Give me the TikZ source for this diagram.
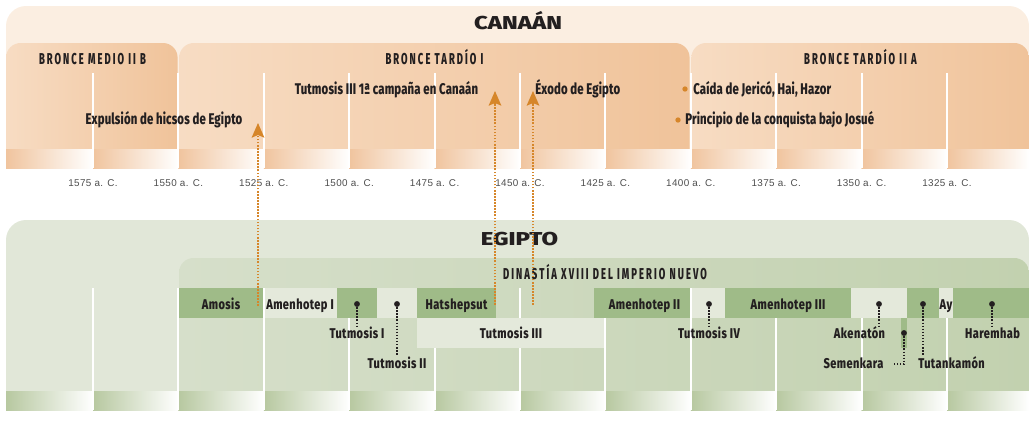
\documentclass[tikz,border=0pt]{standalone}
\usepackage{fontspec}
\setmainfont{Liberation Sans}
\newfontfamily\condA[FakeStretch=0.735,LetterSpace=1]{Fira Sans ExtraBold}
\newfontfamily\condB[FakeStretch=0.78,LetterSpace=3]{Fira Sans ExtraBold}
\newfontfamily\condH[FakeStretch=0.6,LetterSpace=13]{Fira Sans ExtraBold}
\newfontfamily\axisf[LetterSpace=4]{Liberation Sans}
\newfontfamily\titlef[FakeStretch=1.28]{Fira Sans ExtraBold}
\usetikzlibrary{arrows.meta}
\definecolor{peachbg}{HTML}{FBEEE1}
\definecolor{peachL}{HTML}{F7DCC3}
\definecolor{peachD}{HTML}{F0C39A}
\definecolor{peachS}{HTML}{F0C49E}
\definecolor{greenbg}{HTML}{E1E7D8}
\definecolor{greenL}{HTML}{D6DFCA}
\definecolor{greenD}{HTML}{C2D1AF}
\definecolor{greenbar}{HTML}{9FBB88}
\definecolor{greenlight}{HTML}{E4E9DB}
\definecolor{greenS}{HTML}{B7C8A0}
\definecolor{ink}{HTML}{231F20}
\definecolor{axisgray}{HTML}{4D4D4D}
\definecolor{orangearr}{HTML}{D6862A}
\begin{document}
\begin{tikzpicture}[x=0.75pt,y=-0.75pt,
  hdr/.style={font=\condH\fontsize{11.8}{13}\selectfont, text=ink, inner sep=0, anchor=base},
  ev/.style={font=\condA\fontsize{11.6}{13}\selectfont, text=ink, inner sep=0, anchor=base},
  nm/.style={font=\condB\fontsize{10.6}{12}\selectfont, text=ink, inner sep=0, anchor=base},
  yr/.style={font=\axisf\fontsize{7.4}{9}\selectfont, text=axisgray, inner sep=0, anchor=base},
  ttl/.style={font=\titlef\fontsize{14}{16}\selectfont, text=ink, inner sep=0, anchor=base},
  wline/.style={white, line width=1.5pt},
  odot/.style={orangearr, line width=1.2pt, dash pattern=on 1.2pt off 1.1pt},
  bkdot/.style={ink, line width=1.1pt, dash pattern=on 1.1pt off 1.2pt},
  bdot/.style={circle, fill=ink, inner sep=0, minimum size=4.4pt},
  obul/.style={circle, fill=orangearr, inner sep=0, minimum size=4pt},
  arr/.style={odot, -{Stealth[length=11pt,width=9.5pt,inset=2pt]}},
  bardark/.style={fill=greenbar},
  barlight/.style={fill=greenlight}
]
\useasboundingbox (0,0) rectangle (1029,432);

% ---------- CANAAN panel ----------
\begin{scope}
  \clip (0,0) rectangle (1029,168);
  \fill[peachbg, rounded corners=15pt] (6,6) rectangle (1029,220);
\end{scope}
\begin{scope}
  \clip (0,0) rectangle (1029,168);
  \shade[left color=peachL, right color=peachD, rounded corners=11pt] (6,43) rectangle (177.6,220);
  \shade[left color=peachL, right color=peachD, rounded corners=11pt] (179.2,43) rectangle (689.6,220);
  \shade[left color=peachL, right color=peachD, rounded corners=11pt] (691.4,43) rectangle (1029,220);
\end{scope}
\foreach \a/\b in {6/93,93/178.4,178.4/263.8,263.8/349.2,349.2/434.6,434.6/520,520/605.4,605.4/690.8,690.8/776.2,776.2/861.6,861.6/947,947/1029}
  \shade[left color=peachS, right color=white] (\a,149) rectangle (\b,168);
\foreach \x in {93,178.4,263.8,349.2,434.6,520,605.4,690.8,776.2,861.6,947}
  \draw[wline] (\x,73) -- (\x,168);

\node[ttl] (canaan) at (518,30) {CANAÁN};
\node[hdr] (bm2b) at (92.5,64) {BRONCE MEDIO II B};
\node[hdr] (bt1) at (434.5,64) {BRONCE TARDÍO I};
\node[hdr] (bt2a) at (860.5,64) {BRONCE TARDÍO II A};

\node[ev] (tut1c) at (386.5,94) {Tutmosis III 1ª campaña en Canaán};
\node[ev, anchor=base west] (exodo) at (535,94) {Éxodo de Egipto};
\node[ev] (expul) at (164,124) {Expulsión de hicsos de Egipto};
\node[obul] (b1) at (685,89) {};
\node[ev, anchor=base west] (caida) at (693,94) {Caída de Jericó, Hai, Hazor};
\node[obul] (b2) at (678,120) {};
\node[ev, anchor=base west] (princ) at (685,124) {Principio de la conquista bajo Josué};

\foreach \x/\y in {93/1575,178.4/1550,263.8/1525,349.2/1500,434.6/1475,520/1450,605.4/1425,690.8/1400,776.2/1375,861.6/1350,947/1325}
  \node[yr] (yt\y) at (\x,186) {\y\ a. C.};

% ---------- EGIPTO panel ----------
\begin{scope}
  \clip (0,0) rectangle (1029,410);
  \fill[greenbg, rounded corners=15pt] (6,220) rectangle (1029,460);
  \shade[left color=greenL, right color=greenD, rounded corners=11pt] (179,258) rectangle (1029,460);
\end{scope}
\foreach \a/\b in {6/93,93/178.4,178.4/263.8,263.8/349.2,349.2/434.6,434.6/520,520/605.4,605.4/690.8,690.8/776.2,776.2/861.6,861.6/947,947/1029}
  \shade[left color=greenS, right color=white] (\a,391) rectangle (\b,410);
\foreach \x in {93,178.4,263.8,349.2,434.6,520,605.4,690.8,776.2,861.6,947}
  \draw[wline] (\x,288) -- (\x,410);

\node[ttl] (egipto) at (519.5,245) {EGIPTO};
\node[hdr] (din) at (605,279) {DINASTÍA XVIII DEL IMPERIO NUEVO};

% row 1 bars
\fill[bardark] (179,288) rectangle (262.8,318);
\fill[barlight] (264.8,288) rectangle (337,318);
\fill[bardark] (337,288) rectangle (377,318);
\fill[barlight] (377,288) rectangle (417,318);
\fill[bardark] (417,288) rectangle (496,318);
\fill[bardark] (594,288) rectangle (689.8,318);
\fill[barlight] (691.8,288) rectangle (725,318);
\fill[bardark] (725,288) rectangle (851,318);
\fill[barlight] (851,288) rectangle (907,318);
\fill[bardark] (907,288) rectangle (939,318);
\fill[barlight] (939,288) rectangle (953,318);
\fill[bardark] (953,288) rectangle (1029,318);
% row 2 bars
\fill[barlight] (417,318) rectangle (604.4,348);
\fill[bardark] (901,318) rectangle (907,348);

\node[nm] (amosis) at (221,309) {Amosis};
\node[nm] (amen1) at (300,309) {Amenhotep I};
\node[nm] (hatsh) at (456.5,309) {Hatshepsut};
\node[nm] (amen2) at (644.5,309) {Amenhotep II};
\node[nm] (amen3) at (788,309) {Amenhotep III};
\node[nm] (ay) at (946,309) {Ay};
\node[nm] (tut1) at (357,338) {Tutmosis I};
\node[nm] (tut3) at (511,338) {Tutmosis III};
\node[nm] (tut4) at (709,338) {Tutmosis IV};
\node[nm] (aken) at (859.5,338) {Akenatón};
\node[nm] (harem) at (992.5,338) {Haremhab};
\node[nm] (tut2) at (397,368) {Tutmosis II};
\node[nm] (semen) at (853.5,368) {Semenkara};
\node[nm] (tutank) at (951.5,368) {Tutankamón};

\node[bdot] (dtut1) at (357,304) {};
\node[bdot] (dtut2) at (397,304) {};
\node[bdot] (dtut4) at (709,304) {};
\node[bdot] (daken) at (879,304) {};
\node[bdot] (dtutank) at (923,304) {};
\node[bdot] (dharem) at (992,304) {};
\node[bdot] (dsemen) at (904,333) {};
\coordinate (semcorner) at (904,364);
\coordinate (semend) at (893,364);

\draw[bkdot] (dtut1) -- (dtut1 |- tut1.north);
\draw[bkdot] (dtut2) -- (dtut2 |- tut2.north);
\draw[bkdot] (dtut4) -- (dtut4 |- tut4.north);
\draw[bkdot] (daken) -- (daken |- aken.north);
\draw[bkdot] (dtutank) -- (dtutank |- tutank.north);
\draw[bkdot] (dharem) -- (dharem |- harem.north);
\draw[bkdot] (dsemen) -- (semcorner) -- (semend);

% ---------- orange arrows ----------
\coordinate (a1s) at (258,306);
\coordinate (a1e) at (258,123);
\coordinate (a2s) at (495,305);
\coordinate (a2e) at (495,91);
\coordinate (a3s) at (533,305);
\coordinate (a3e) at (533,91);
\draw[arr] (a1s) -- (a1e);
\draw[arr] (a2s) -- (a2e);
\draw[arr] (a3s) -- (a3e);
\end{tikzpicture}
\end{document}
